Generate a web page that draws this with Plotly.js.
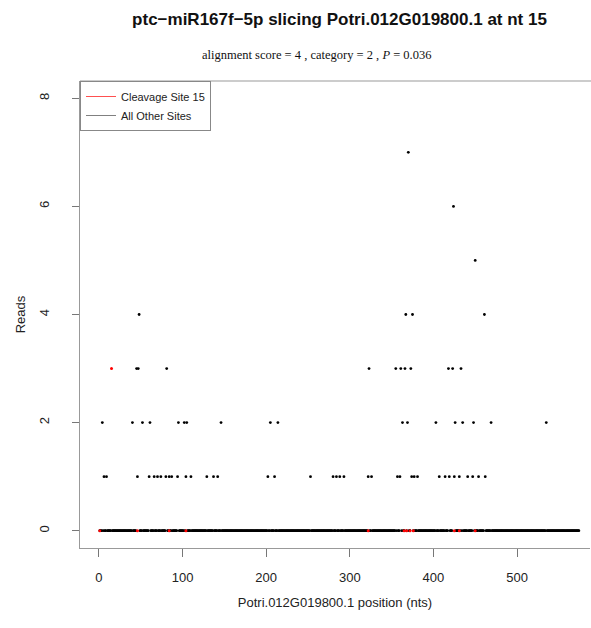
<!DOCTYPE html>
<html>
<head>
<meta charset="utf-8">
<script src="https://cdn.plot.ly/plotly-3.0.1.min.js"></script>
<style>html,body{margin:0;padding:0;background:#fff;}#chart{width:591px;height:628px;}</style>
</head>
<body>
<div id="chart"></div>
<script>
// ---- data ----
const transcriptLength = 574;
const cleavageSite = 15;
const cleavageReads = 3;
const pos7 = [370];
const pos6 = [424];
const pos5 = [450];
const pos4 = [48, 367, 375, 461];
const pos3 = [45, 47, 81, 323, 355, 361, 366, 373, 418, 423, 433];
const pos2 = [4, 40, 52, 61, 95, 102, 105, 146, 205, 214, 363, 369, 403, 426, 435, 448, 469, 535];
const pos1 = [6, 9, 46, 60, 66, 70, 74, 80, 84, 87, 94, 104, 110, 129, 137, 142, 202, 210, 253,
              280, 284, 288, 293, 322, 326, 357, 360, 374, 377, 381, 407, 414, 419, 425, 431,
              441, 447, 454, 462];
const zeroRedPos = [1, 46, 84, 104, 322, 365, 368, 372, 376, 425, 431, 450];
const xTicks = [0, 100, 200, 300, 400, 500];
const yTicks = [0, 2, 4, 6, 8];

// ---- build series ----
const levels = [[pos1,1],[pos2,2],[pos3,3],[pos4,4],[pos5,5],[pos6,6],[pos7,7]];
const otherX = [], otherY = [];
const nonZero = new Set([cleavageSite]);
levels.forEach(([arr, r]) => arr.forEach(p => { otherX.push(p); otherY.push(r); nonZero.add(p); }));
const zeroX = [], zeroY = [];
for (let p = 1; p <= transcriptLength; p++) {
  if (!nonZero.has(p)) { zeroX.push(p); zeroY.push(0); }
}

const traces = [
  {x: zeroX, y: zeroY, type: 'scatter', mode: 'markers', showlegend: false,
   marker: {color: '#000', size: 2.8}},
  {x: zeroRedPos, y: zeroRedPos.map(() => 0), type: 'scatter', mode: 'markers', showlegend: false,
   marker: {color: '#ff0000', size: 3}},
  {x: otherX, y: otherY, type: 'scatter', mode: 'markers', showlegend: false,
   marker: {color: '#000', size: 2.8}},
  {x: [cleavageSite], y: [cleavageReads], type: 'scatter', mode: 'markers', showlegend: false,
   marker: {color: '#ff0000', size: 3}},
  {x: [null], y: [null], type: 'scatter', mode: 'lines', name: 'Cleavage Site 15',
   line: {color: '#ff5050', width: 1}},
  {x: [null], y: [null], type: 'scatter', mode: 'lines', name: 'All Other Sites',
   line: {color: '#808080', width: 1}}
];

const axisFont = {family: 'Liberation Sans, Arial, sans-serif', size: 13, color: '#222'};
const layout = {
  width: 591, height: 628,
  margin: {l: 80, r: 1, t: 81, b: 80, pad: 0},
  paper_bgcolor: '#fff', plot_bgcolor: '#fff',
  title: {text: 'ptc\u2212miR167f\u22125p slicing Potri.012G019800.1 at nt 15',
          font: {family: 'Liberation Sans, Arial, sans-serif', size: 17, color: '#111', weight: 'bold'},
          xref: 'container', x: 339.5/591, xanchor: 'center',
          yref: 'container', y: 1 - 19/628, yanchor: 'middle'},
  xaxis: {range: [-22.7, 587.3], tickvals: xTicks, ticktext: xTicks.map(String),
          showgrid: false, zeroline: false, showline: true, linecolor: '#999', linewidth: 1,
          ticks: 'outside', ticklen: 8, tickcolor: '#777', tickfont: axisFont, ticklabelstandoff: 9,
          title: {text: 'Potri.012G019800.1 position (nts)', font: axisFont, standoff: 14}},
  yaxis: {range: [-0.32, 8.32], tickvals: yTicks, ticktext: yTicks.map(String),
          showgrid: false, zeroline: false, showline: true, linecolor: '#999', linewidth: 1,
          ticks: 'outside', ticklen: 7, tickcolor: '#777', tickfont: axisFont, tickangle: -90,
          ticklabelstandoff: 18,
          title: {text: 'Reads', font: axisFont, standoff: 8}},
  legend: {x: 0, y: 1, xanchor: 'left', yanchor: 'top', bgcolor: '#fff',
           bordercolor: '#888', borderwidth: 1, itemwidth: 30, tracegroupgap: 0,
           font: {family: 'Liberation Sans, Arial, sans-serif', size: 11, color: '#222'}},
  shapes: [
    {type: 'line', xref: 'paper', yref: 'paper', x0: 0, x1: 1.05, y0: 1, y1: 1,
     line: {color: '#999', width: 1}}
  ],
  annotations: [
    {text: 'alignment score = 4 , category = 2 , <i>P</i> = 0.036', showarrow: false,
     xref: 'paper', x: (316-80)/510, xanchor: 'center',
     yref: 'paper', y: 1, yanchor: 'middle', yshift: 26,
     font: {family: 'Liberation Serif, Times New Roman, serif', size: 12.5, color: '#111'}}
  ]
};

Plotly.newPlot('chart', traces, layout, {displayModeBar: false, staticPlot: true});
</script>
</body>
</html>
